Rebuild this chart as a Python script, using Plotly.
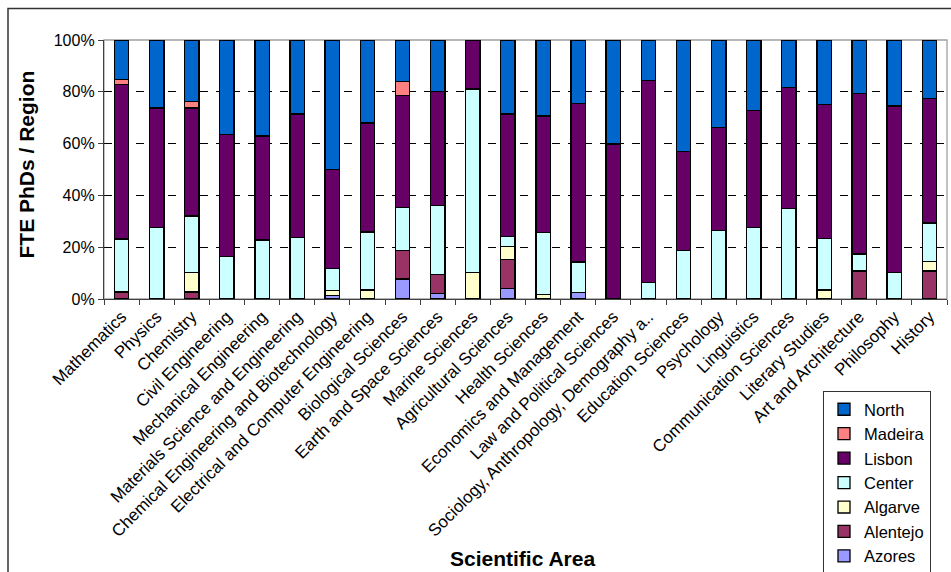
import plotly.graph_objects as go

# Scientific areas (x categories)
areas = [
    "Mathematics", "Physics", "Chemistry", "Civil Engineering",
    "Mechanical Engineering", "Materials Science and Engineering",
    "Chemical Engineering and Biotechnology",
    "Electrical and Computer Engineering", "Biological Sciences",
    "Earth and Space Sciences", "Marine Sciences", "Agricultural Sciences",
    "Health Sciences", "Economics and Management",
    "Law and Political Sciences", "Sociology, Anthropology, Demography a..",
    "Education Sciences", "Psychology", "Linguistics",
    "Communication Sciences", "Literary Studies", "Art and Architecture",
    "Philosophy", "History",
]

# Share of FTE PhDs per region (%), one value per area
azores = [0, 0, 0, 0, 0, 0, 1.4, 0, 7.7, 2.1, 0, 4.0,
          0, 2.6, 0, 0, 0, 0, 0, 0, 0, 0, 0, 0]
alentejo = [2.7, 0, 2.7, 0, 0, 0, 0, 0, 10.9, 7.3, 0, 11.3,
            0, 0, 0, 0, 0, 0, 0, 0, 0, 10.8, 0, 10.8]
algarve = [0, 0, 7.4, 0, 0, 0, 1.9, 3.5, 0, 0, 10.1, 5.1,
           1.7, 0, 0, 0, 0, 0, 0, 0, 3.5, 0, 0, 3.8]
center = [20.5, 27.7, 21.9, 16.5, 22.8, 23.8, 8.4, 22.4, 16.8, 26.8, 71.0, 3.6,
          24.1, 11.7, 0, 6.4, 18.6, 26.5, 27.7, 34.9, 19.8, 6.6, 10.1, 14.8]
lisbon = [59.7, 46.0, 41.8, 46.9, 40.1, 47.6, 38.4, 42.0, 43.3, 43.8, 18.9, 47.4,
          44.9, 61.3, 59.9, 77.9, 38.4, 39.6, 45.0, 46.8, 51.7, 62.0, 64.4, 48.0]
madeira = [1.9, 0, 2.5, 0, 0, 0, 0, 0, 5.4, 0, 0, 0,
           0, 0, 0, 0, 0, 0, 0, 0, 0, 0, 0, 0]
north = [15.2, 26.3, 23.7, 36.6, 37.1, 28.6, 49.9, 32.1, 15.9, 20.0, 0, 28.6,
         29.3, 24.4, 40.1, 15.7, 43.0, 33.9, 27.3, 18.3, 25.0, 20.6, 25.5, 22.6]

y_ticks = [0, 20, 40, 60, 80, 100]
y_tick_labels = ["0%", "20%", "40%", "60%", "80%", "100%"]

# Stacked from the bottom up
series = [
    ("Azores", azores, "#9999FF"),
    ("Alentejo", alentejo, "#993366"),
    ("Algarve", algarve, "#FFFFCC"),
    ("Center", center, "#CCFFFF"),
    ("Lisbon", lisbon, "#660066"),
    ("Madeira", madeira, "#FF8080"),
    ("North", north, "#0066CC"),
]

FONT = "Liberation Sans, Arial, sans-serif"

fig = go.Figure()
for name, vals, color in series:
    fig.add_trace(go.Bar(
        x=areas,
        y=[v if v else None for v in vals],
        name=name,
        marker=dict(color=color, line=dict(color="black", width=1.3)),
    ))

L, R, T, B = 104, 4, 40, 273
W, H = 951, 572
pw, ph = W - L - R, H - T - B


def px_x(p):
    return (p - L) / pw


def px_y(q):
    return (H - B - q) / ph


fig.update_layout(
    width=W, height=H,
    margin=dict(l=L, r=R, t=T, b=B, autoexpand=False),
    barmode="stack",
    barnorm="percent",
    bargap=0.59,
    paper_bgcolor="white",
    plot_bgcolor="white",
    font=dict(family=FONT, size=16, color="black"),
    showlegend=True,
    legend=dict(
        traceorder="reversed",
        x=px_x(823), y=px_y(391), xanchor="left", yanchor="top",
        bgcolor="white", bordercolor="#333333", borderwidth=1,
        font=dict(family=FONT, size=16.5, color="black"),
        tracegroupgap=0,
        entrywidth=84,
    ),
    xaxis=dict(
        type="category",
        tickangle=-45,
        tickson="boundaries",
        ticks="outside", ticklen=5, tickcolor="#404040",
        showline=True, linecolor="#404040", linewidth=1.3,
        showgrid=False,
        tickfont=dict(family=FONT, size=17, color="black"),
        automargin=False,
    ),
    yaxis=dict(
        range=[0, 100],
        tickmode="array",
        tickvals=y_ticks,
        ticktext=y_tick_labels,
        ticks="outside", ticklen=5, tickcolor="#404040",
        showline=True, linecolor="#404040", linewidth=1.3,
        showgrid=True, gridcolor="black", gridwidth=1, griddash="8px,8px",
        zeroline=False,
        tickfont=dict(family=FONT, size=16, color="black"),
        automargin=False,
    ),
    shapes=[
        # plot area border
        dict(type="rect", xref="x domain", yref="y domain",
             x0=0, x1=1, y0=0, y1=1,
             line=dict(color="#A0A0A0", width=1.3), layer="below"),
        # chart frame
        dict(type="rect", xref="paper", yref="paper",
             x0=px_x(8), x1=px_x(962), y0=px_y(582), y1=px_y(8.5),
             line=dict(color="#333333", width=1.5), layer="above"),
    ],
    annotations=[
        dict(text="<b>Scientific Area</b>", xref="paper", yref="paper",
             x=px_x(522), y=px_y(558), xanchor="center", yanchor="middle",
             showarrow=False, font=dict(family=FONT, size=21, color="black")),
        dict(text="<b>FTE PhDs / Region</b>", xref="paper", yref="paper",
             x=px_x(25.5), y=px_y(165), xanchor="center", yanchor="middle",
             textangle=-90, showarrow=False,
             font=dict(family=FONT, size=21, color="black")),
    ],
)

fig.write_html("out.html")
